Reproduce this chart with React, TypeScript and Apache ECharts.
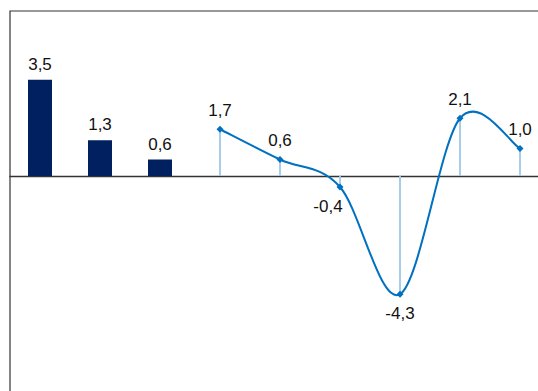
import React, { useEffect, useRef } from "react";
import * as echarts from "echarts";

const categories = ["A", "B", "C", "D", "E", "F", "G", "H", "I"];
const barValues: (number | null)[] = [3.5, 1.3, 0.6, null, null, null, null, null, null];
const lineValues: (number | null)[] = [null, null, null, 1.7, 0.6, -0.4, -4.3, 2.1, 1.0];

const fmt = (v: number) => v.toFixed(1).replace(".", ",");
const FONT = "'Liberation Sans', Arial, sans-serif";

export default function App() {
  const ref = useRef<HTMLDivElement>(null);
  useEffect(() => {
    if (!ref.current) return;
    const chart = echarts.init(ref.current, undefined, { renderer: "svg" });
    const pointData = lineValues
      .map((v, i) => (v === null ? null : [i, v]))
      .filter((d) => d !== null) as number[][];
    const lineData = lineValues.map((v) => {
      if (v === null) return null;
      if (v < 0) {
        return {
          value: v,
          label: {
            position: "bottom",
            distance: 7,
            offset: v < -1 ? [0, 0] : [-12, 0],
          },
        };
      }
      return { value: v };
    });
    chart.setOption({
      animation: false,
      backgroundColor: "#ffffff",
      grid: {
        left: 10,
        top: 11,
        width: 540,
        height: 385,
        show: true,
        borderColor: "#333333",
        borderWidth: 1.2,
        backgroundColor: "transparent",
        outerBoundsMode: "none",
        containLabel: false,
      },
      xAxis: {
        type: "category",
        data: categories,
        boundaryGap: true,
        axisLine: { show: true, onZero: true, lineStyle: { color: "#333333", width: 1.3 } },
        axisTick: { show: false },
        axisLabel: { show: false },
        splitLine: { show: false },
      },
      yAxis: {
        type: "value",
        min: -8,
        max: 6,
        show: false,
        splitLine: { show: false },
      },
      series: [
        {
          type: "bar",
          data: barValues,
          barWidth: 24,
          itemStyle: { color: "#002060" },
          label: {
            show: true,
            position: "top",
            distance: 7,
            fontFamily: FONT,
            fontSize: 17,
            color: "#111111",
            formatter: (p: any) => fmt(p.value),
          },
          z: 2,
        },
        {
          // drop lines from each point to zero
          type: "custom",
          data: pointData,
          renderItem: (params: any, api: any) => {
            const i = api.value(0);
            const v = api.value(1);
            const p0 = api.coord([i, 0]);
            const p1 = api.coord([i, v]);
            return {
              type: "line",
              shape: { x1: p0[0], y1: p0[1], x2: p1[0], y2: p1[1] },
              style: { stroke: "#9CC8EC", lineWidth: 1.8 },
            };
          },
          z: 1,
        },
        {
          // smoothed curve (Catmull-Rom segments)
          type: "custom",
          data: pointData,
          renderItem: (params: any, api: any) => {
            const k = params.dataIndexInside;
            const n = params.dataInsideLength;
            if (k >= n - 1) return null;
            const pt = (j: number) => {
              const jj = Math.max(0, Math.min(n - 1, j));
              return api.coord([api.value(0, jj), api.value(1, jj)]);
            };
            const p0 = pt(k - 1);
            const p1 = pt(k);
            const p2 = pt(k + 1);
            const p3 = pt(k + 2);
            const t = 1 / 6;
            return {
              type: "bezierCurve",
              shape: {
                x1: p1[0],
                y1: p1[1],
                cpx1: p1[0] + (p2[0] - p0[0]) * t,
                cpy1: p1[1] + (p2[1] - p0[1]) * t,
                cpx2: p2[0] - (p3[0] - p1[0]) * t,
                cpy2: p2[1] - (p3[1] - p1[1]) * t,
                x2: p2[0],
                y2: p2[1],
              },
              style: { stroke: "#0070C0", lineWidth: 2, fill: "none" },
            };
          },
          z: 2,
        },
        {
          type: "line",
          data: lineData,
          connectNulls: false,
          symbol: "diamond",
          symbolSize: 7,
          lineStyle: { color: "#0070C0", width: 0, opacity: 0 },
          itemStyle: { color: "#0070C0" },
          label: {
            show: true,
            position: "top",
            distance: 7,
            fontFamily: FONT,
            fontSize: 17,
            color: "#111111",
            formatter: (p: any) => fmt(p.value),
          },
          z: 3,
        },
      ],
    });
    return () => chart.dispose();
  }, []);
  return (
    <div
      ref={ref}
      style={{ position: "fixed", left: 0, top: 0, width: 538, height: 391 }}
    />
  );
}
